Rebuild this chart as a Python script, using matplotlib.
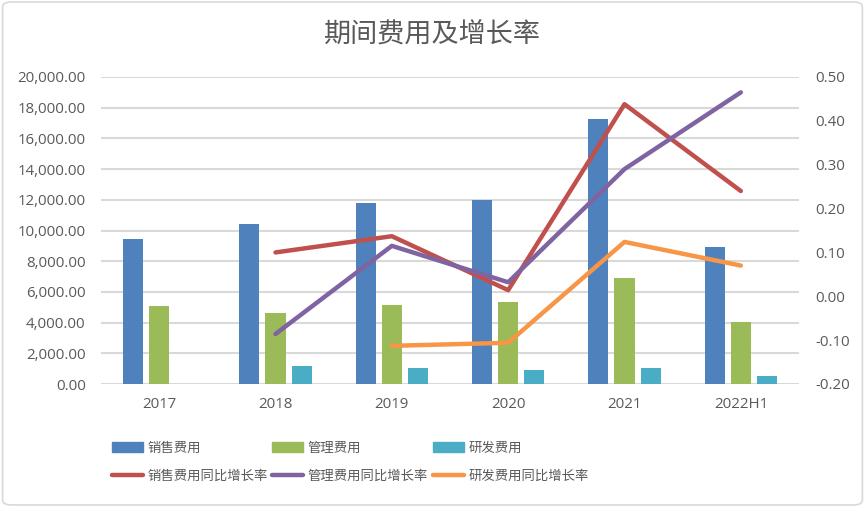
import matplotlib
matplotlib.use("Agg")
import matplotlib.pyplot as plt
from matplotlib.patches import FancyBboxPatch, Patch
from matplotlib.lines import Line2D
import matplotlib.ticker as mticker
import numpy as np

plt.rcParams['font.family'] = ['Noto Sans CJK SC', 'DejaVu Sans']

categories = ["2017", "2018", "2019", "2020", "2021", "2022H1"]
sales = [9450, 10450, 11790, 12000, 17260, 8920]
admin = [5080, 4630, 5150, 5340, 6900, 4040]
rnd = [np.nan, 1170, 1040, 910, 1040, 520]
sales_growth = [np.nan, 0.100, 0.137, 0.014, 0.438, 0.240]
admin_growth = [np.nan, -0.086, 0.115, 0.032, 0.290, 0.465]
rnd_growth = [np.nan, np.nan, -0.113, -0.106, 0.124, 0.070]

C_BLUE = "#4F81BD"
C_GREEN = "#9BBB59"
C_CYAN = "#4BACC6"
C_RED = "#C0504D"
C_PURPLE = "#8064A2"
C_ORANGE = "#F79646"
TXT = "#595959"
GRID = "#D9D9D9"

fig = plt.figure(figsize=(8.65, 5.07), dpi=100)
fig.patches.append(FancyBboxPatch((0.003, 0.004), 0.994, 0.992, boxstyle="round,pad=0,rounding_size=0.01",
                                  transform=fig.transFigure, fill=False, edgecolor=GRID, linewidth=1.2))

ax = fig.add_axes([101/865, 1-384/507, 698/865, 307/507])
x = np.arange(len(categories))
bw = 0.172
off = 0.224
ax.bar(x - off, sales, bw, color=C_BLUE, zorder=2)
ax.bar(x, admin, bw, color=C_GREEN, zorder=2)
ax.bar(x + off, rnd, bw, color=C_CYAN, zorder=2)
ax.set_xlim(-0.5, len(categories) - 0.5)
ax.set_ylim(0, 20000)
ax.set_yticks(np.arange(0, 20001, 2000))
ax.yaxis.set_major_formatter(mticker.FuncFormatter(lambda v, p: f"{v:,.2f}"))
ax.grid(axis='y', color=GRID, linewidth=1.5, zorder=0)
ax.set_axisbelow(True)
for s in ax.spines.values():
    s.set_visible(False)
ax.tick_params(axis='both', length=0, colors=TXT, labelsize=10.8)
ax.tick_params(axis='y', pad=11)
ax.tick_params(axis='x', pad=9)
ax.set_xticks(x)
ax.set_xticklabels(categories)
for lab in ax.get_xticklabels() + ax.get_yticklabels():
    lab.set_fontfamily(['Open Sans', 'DejaVu Sans'])

ax2 = ax.twinx()
ax2.set_ylim(-0.2, 0.5)
ax2.set_yticks(np.arange(-0.2, 0.501, 0.1))
ax2.yaxis.set_major_formatter(mticker.FuncFormatter(lambda v, p: f"{v:.2f}"))
for s in ax2.spines.values():
    s.set_visible(False)
ax2.tick_params(axis='y', length=0, colors=TXT, labelsize=10.8, pad=12)
for lab in ax2.get_yticklabels():
    lab.set_fontfamily(['Open Sans', 'DejaVu Sans'])
lw = 3.2
ax2.plot(x, sales_growth, color=C_RED, lw=lw, solid_capstyle='round', zorder=3)
ax2.plot(x, admin_growth, color=C_PURPLE, lw=lw, solid_capstyle='round', zorder=3)
ax2.plot(x, rnd_growth, color=C_ORANGE, lw=lw, solid_capstyle='round', zorder=3)

fig.text(0.5, 1-35/507, "期间费用及增长率", ha='center', va='center', fontsize=19.5, color=TXT)

handles = [Patch(color=C_BLUE), Patch(color=C_GREEN), Patch(color=C_CYAN),
           Line2D([], [], color=C_RED, lw=lw, solid_capstyle='round'),
           Line2D([], [], color=C_PURPLE, lw=lw, solid_capstyle='round'),
           Line2D([], [], color=C_ORANGE, lw=lw, solid_capstyle='round')]
labels = ["销售费用", "管理费用", "研发费用", "销售费用同比增长率", "管理费用同比增长率", "研发费用同比增长率"]
# each legend entry placed on a fixed grid like the original
col_x = [112, 272, 433]
row_y = [448, 476]
for i, (h, l) in enumerate(zip(handles, labels)):
    r, c = divmod(i, 3)
    lg = fig.legend([h], [l], loc='center left', bbox_to_anchor=(col_x[c]/865, 1-row_y[r]/507),
                    frameon=False, fontsize=9.6, labelcolor=TXT, handlelength=2.35, handleheight=0.75,
                    handletextpad=0.3, borderaxespad=0, borderpad=0)

fig.savefig("out.png", dpi=100)
